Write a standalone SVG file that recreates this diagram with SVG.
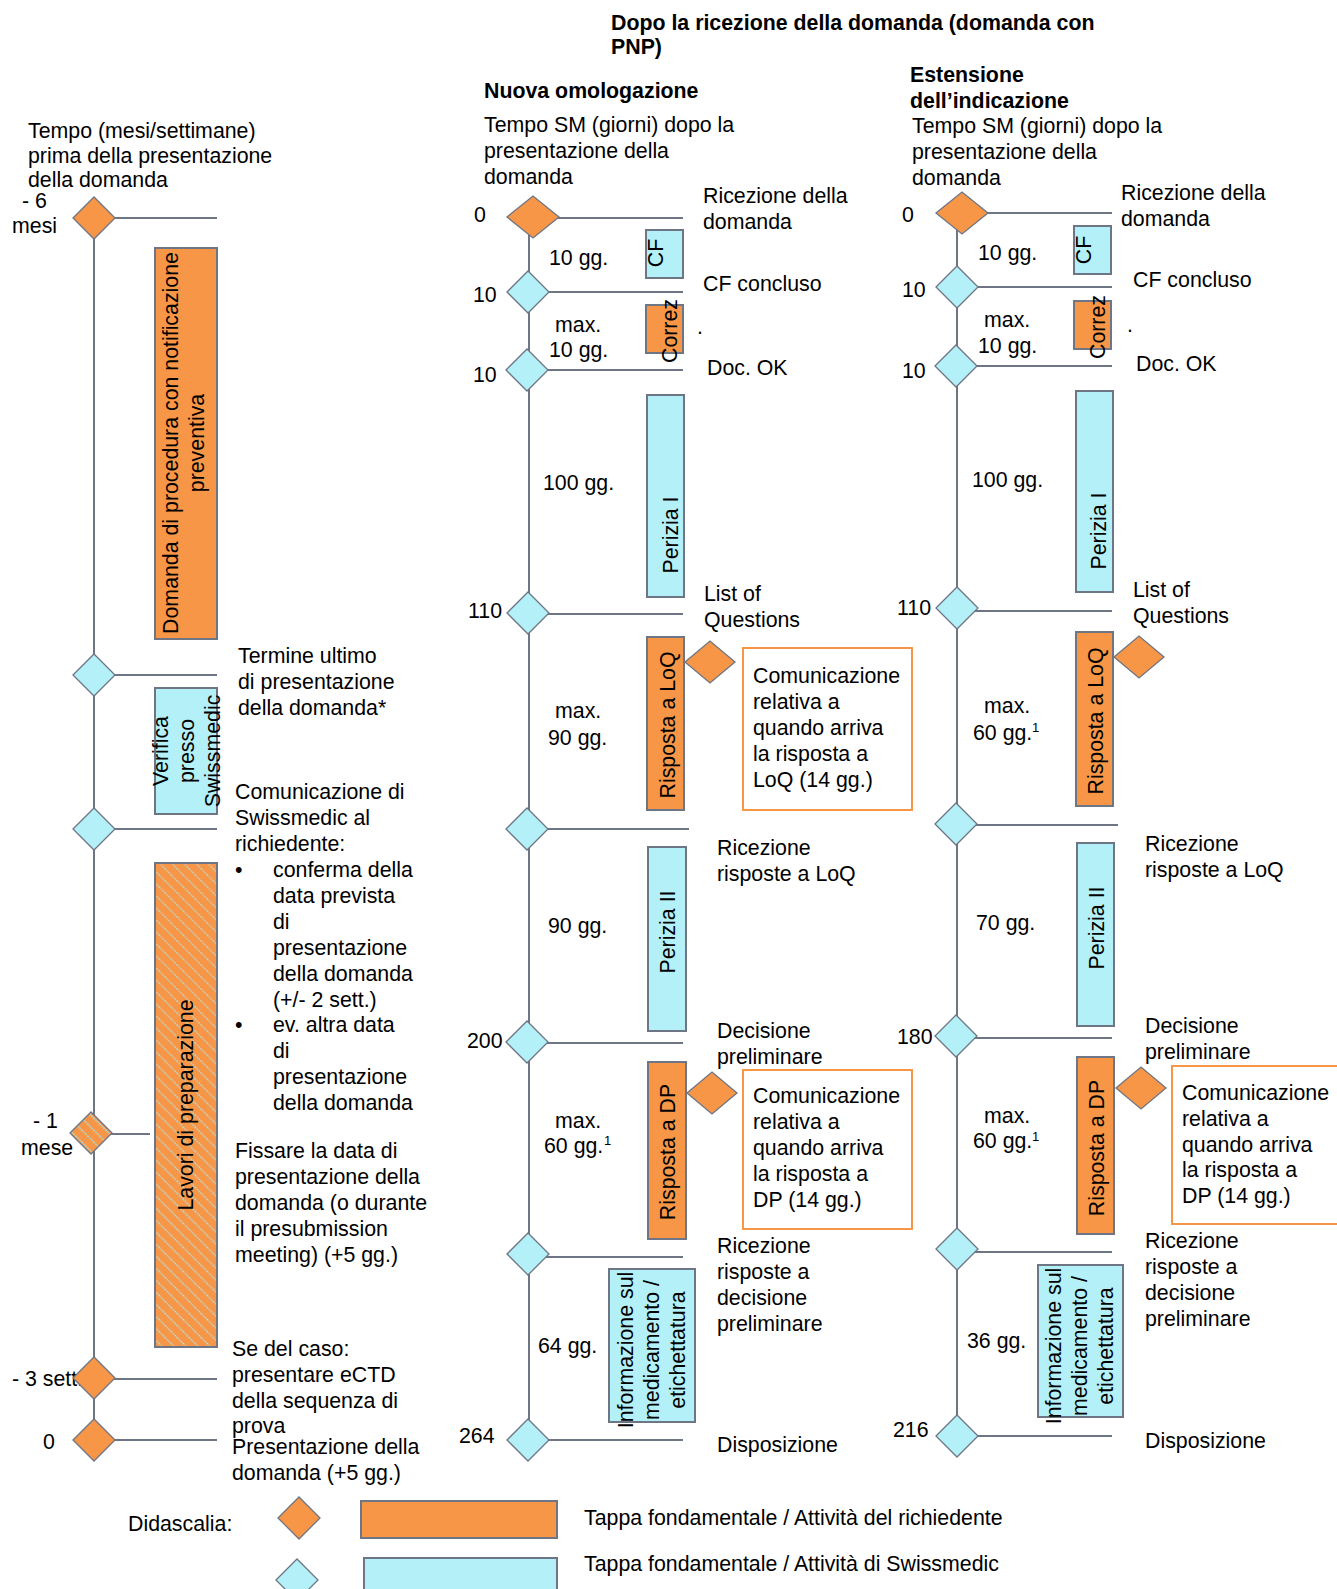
<svg xmlns="http://www.w3.org/2000/svg" xmlns:xlink="http://www.w3.org/1999/xlink" width="1337" height="1589" viewBox="0 0 1337 1589">
<style>
text{font-family:"Liberation Sans",Arial,sans-serif;font-size:21.33px;fill:#000}
.b{font-weight:bold}
.sup{font-size:13px}
.m{text-anchor:middle}
.ln{stroke:#6e7585;stroke-width:2;fill:none}
.dO{fill:#F79646;stroke:#6e7585;stroke-width:1.3}
.dC{fill:#B4F0F8;stroke:#6e7585;stroke-width:1.3}
.dH{fill:url(#hatch);stroke:#6e7585;stroke-width:1.3}
.rO{fill:#F79646;stroke:#6e7585;stroke-width:2}
.rC{fill:#B4F0F8;stroke:#6e7585;stroke-width:2}
.rH{fill:url(#hatch);stroke:#6e7585;stroke-width:2}
.note{fill:#fff;stroke:#F79646;stroke-width:2}
</style>
<defs>
<pattern id="hatch" patternUnits="userSpaceOnUse" width="8.5" height="8.5" patternTransform="rotate(-45)">
<rect width="8.5" height="8.5" fill="#F79646"/>
<line x1="4" y1="0" x2="4" y2="8.5" stroke="#9FEAF5" stroke-width="1.2" stroke-dasharray="1.5 1"/>
</pattern>
<path id="dia" d="M-21,0 L0,-21 L21,0 L0,21 Z"/>
<path id="diaW" d="M-26,0 L0,-21 L26,0 L0,21 Z"/>
<path id="diaS" d="M-25,0 L0,-21 L25,0 L0,21 Z"/>
</defs>
<rect width="1337" height="1589" fill="#fff"/>

<!-- Headers -->
<g id="headers">
<text x="28" y="138">Tempo (mesi/settimane)</text>
<text x="28" y="163">prima della presentazione</text>
<text x="28" y="187">della domanda</text>
<text class="b" x="611" y="30">Dopo la ricezione della domanda (domanda con</text>
<text class="b" x="611" y="54">PNP)</text>
<text class="b" x="484" y="98">Nuova omologazione</text>
<text x="484" y="132">Tempo SM (giorni) dopo la</text>
<text x="484" y="158">presentazione della</text>
<text x="484" y="184">domanda</text>
<text class="b" x="910" y="82">Estensione</text>
<text class="b" x="910" y="108">dell’indicazione</text>
<text x="912" y="133">Tempo SM (giorni) dopo la</text>
<text x="912" y="159">presentazione della</text>
<text x="912" y="185">domanda</text>
</g>

<!-- Connectors -->
<g id="connectors" class="ln">
<line x1="94" y1="218" x2="94" y2="1440"/>
<line x1="94" y1="218" x2="217" y2="218"/>
<line x1="94" y1="675" x2="217" y2="675"/>
<line x1="94" y1="829" x2="217" y2="829"/>
<line x1="94" y1="1134" x2="150" y2="1134"/>
<line x1="94" y1="1379" x2="217" y2="1379"/>
<line x1="94" y1="1440" x2="217" y2="1440"/>

<line x1="529" y1="218" x2="529" y2="1440"/>
<line x1="529" y1="218" x2="683" y2="218"/>
<line x1="529" y1="292" x2="683" y2="292"/>
<line x1="529" y1="370" x2="683" y2="370"/>
<line x1="529" y1="614" x2="683" y2="614"/>
<line x1="529" y1="829" x2="689" y2="829"/>
<line x1="529" y1="1043" x2="683" y2="1043"/>
<line x1="529" y1="1257" x2="683" y2="1257"/>
<line x1="529" y1="1440" x2="683" y2="1440"/>

<line x1="957" y1="213" x2="957" y2="1436"/>
<line x1="957" y1="213" x2="1112" y2="213"/>
<line x1="957" y1="287" x2="1112" y2="287"/>
<line x1="957" y1="366" x2="1112" y2="366"/>
<line x1="957" y1="611" x2="1112" y2="611"/>
<line x1="957" y1="825" x2="1118" y2="825"/>
<line x1="957" y1="1038" x2="1112" y2="1038"/>
<line x1="957" y1="1252" x2="1112" y2="1252"/>
<line x1="957" y1="1436" x2="1112" y2="1436"/>
</g>

<!-- Left column -->
<g id="L-m6">
<text x="22" y="208">- 6</text>
<text x="12" y="233">mesi</text>
<use xlink:href="#dia" x="94" y="218" class="dO"/>
</g>
<g id="L-pnp">
<rect class="rO" x="155" y="248" width="62" height="391"/>
<text class="m" transform="translate(178,443) rotate(-90)">Domanda di procedura con notificazione</text>
<text class="m" transform="translate(204,443) rotate(-90)">preventiva</text>
</g>
<g id="L-termine">
<use xlink:href="#dia" x="94" y="675" class="dC"/>
<text x="238" y="663">Termine ultimo</text>
<text x="238" y="689">di presentazione</text>
<text x="238" y="715">della domanda*</text>
</g>
<g id="L-verifica">
<rect class="rC" x="155" y="688" width="62" height="126"/>
<text class="m" transform="translate(168,751) rotate(-90)">Verifica</text>
<text class="m" transform="translate(194,751) rotate(-90)">presso</text>
<text class="m" transform="translate(220,751) rotate(-90)">Swissmedic</text>
</g>
<g id="L-comunicazione">
<use xlink:href="#dia" x="94" y="829" class="dC"/>
<text x="235" y="799">Comunicazione di</text>
<text x="235" y="825">Swissmedic al</text>
<text x="235" y="851">richiedente:</text>
<text x="235" y="877">•</text>
<text x="273" y="877">conferma della</text>
<text x="273" y="903">data prevista</text>
<text x="273" y="929">di</text>
<text x="273" y="955">presentazione</text>
<text x="273" y="981">della domanda</text>
<text x="273" y="1007">(+/- 2 sett.)</text>
<text x="235" y="1032">•</text>
<text x="273" y="1032">ev. altra data</text>
<text x="273" y="1058">di</text>
<text x="273" y="1084">presentazione</text>
<text x="273" y="1110">della domanda</text>
</g>
<g id="L-lavori">
<rect class="rH" x="155" y="863" width="62" height="484"/>
<text class="m" transform="translate(193,1105) rotate(-90)">Lavori di preparazione</text>
</g>
<g id="L-m1">
<text x="33" y="1128">- 1</text>
<text x="21" y="1155">mese</text>
<use xlink:href="#dia" x="91" y="1133" class="dH"/>
<text x="235" y="1158">Fissare la data di</text>
<text x="235" y="1184">presentazione della</text>
<text x="235" y="1210">domanda (o durante</text>
<text x="235" y="1236">il presubmission</text>
<text x="235" y="1262">meeting) (+5 gg.)</text>
</g>
<g id="L-m3">
<text x="12" y="1386">- 3 sett.</text>
<use xlink:href="#dia" x="94" y="1378" class="dO"/>
<text x="232" y="1356">Se del caso:</text>
<text x="232" y="1382">presentare eCTD</text>
<text x="232" y="1408">della sequenza di</text>
<text x="232" y="1433">prova</text>
</g>
<g id="L-0">
<text x="43" y="1449">0</text>
<use xlink:href="#dia" x="94" y="1440" class="dO"/>
<text x="232" y="1454">Presentazione della</text>
<text x="232" y="1480">domanda (+5 gg.)</text>
</g>

<!-- Middle column: Nuova omologazione -->
<g id="M-0">
<text x="474" y="222">0</text>
<use xlink:href="#diaW" x="533" y="217" class="dO"/>
<text x="703" y="203">Ricezione della</text>
<text x="703" y="229">domanda</text>
</g>
<g id="M-cf">
<rect class="rC" x="646" y="230" width="37" height="48"/>
<text class="m" transform="translate(663,253) rotate(-90)">CF</text>
<text x="549" y="265">10 gg.</text>
</g>
<g id="M-10a">
<text x="473" y="302">10</text>
<use xlink:href="#dia" x="528" y="292" class="dC"/>
<text x="703" y="291">CF concluso</text>
</g>
<g id="M-correz">
<rect class="rO" x="646" y="305" width="37" height="48"/>
<text class="m" transform="translate(677,331) rotate(-90)">Correz</text>
<text x="697" y="334">.</text>
<text x="555" y="332">max.</text>
<text x="549" y="357">10 gg.</text>
</g>
<g id="M-10b">
<text x="473" y="382">10</text>
<use xlink:href="#dia" x="527" y="370" class="dC"/>
<text x="707" y="375">Doc. OK</text>
</g>
<g id="M-perizia1">
<rect class="rC" x="647" y="395" width="37" height="202"/>
<text class="m" transform="translate(678,535) rotate(-90)">Perizia I</text>
<text x="543" y="490">100 gg.</text>
</g>
<g id="M-110">
<text x="468" y="618">110</text>
<use xlink:href="#dia" x="528" y="613" class="dC"/>
<text x="704" y="601">List of</text>
<text x="704" y="627">Questions</text>
</g>
<g id="M-loq">
<rect class="rO" x="647" y="637" width="37" height="173"/>
<text class="m" transform="translate(675,725) rotate(-90)">Risposta a LoQ</text>
<text x="555" y="718">max.</text>
<text x="548" y="745">90 gg.</text>
<use xlink:href="#diaS" x="710" y="662" class="dO"/>
<rect class="note" x="743" y="648" width="169" height="162"/>
<text x="753" y="683">Comunicazione</text>
<text x="753" y="709">relativa a</text>
<text x="753" y="735">quando arriva</text>
<text x="753" y="761">la risposta a</text>
<text x="753" y="787">LoQ (14 gg.)</text>
</g>
<g id="M-rloq">
<use xlink:href="#dia" x="527" y="829" class="dC"/>
<text x="717" y="855">Ricezione</text>
<text x="717" y="881">risposte a LoQ</text>
</g>
<g id="M-perizia2">
<rect class="rC" x="648" y="847" width="38" height="184"/>
<text class="m" transform="translate(675,932) rotate(-90)">Perizia II</text>
<text x="548" y="933">90 gg.</text>
</g>
<g id="M-200">
<text x="467" y="1048">200</text>
<use xlink:href="#dia" x="527" y="1042" class="dC"/>
<text x="717" y="1038">Decisione</text>
<text x="717" y="1064">preliminare</text>
</g>
<g id="M-dp">
<rect class="rO" x="648" y="1062" width="38" height="177"/>
<text class="m" transform="translate(675,1152) rotate(-90)">Risposta a DP</text>
<text x="555" y="1128">max.</text>
<text x="544" y="1153">60 gg.</text>
<text class="sup" x="604" y="1145">1</text>
<use xlink:href="#diaS" x="712" y="1093" class="dO"/>
<rect class="note" x="743" y="1070" width="169" height="159"/>
<text x="753" y="1103">Comunicazione</text>
<text x="753" y="1129">relativa a</text>
<text x="753" y="1155">quando arriva</text>
<text x="753" y="1181">la risposta a</text>
<text x="753" y="1207">DP (14 gg.)</text>
</g>
<g id="M-rdp">
<use xlink:href="#dia" x="528" y="1254" class="dC"/>
<text x="717" y="1253">Ricezione</text>
<text x="717" y="1279">risposte a</text>
<text x="717" y="1305">decisione</text>
<text x="717" y="1331">preliminare</text>
</g>
<g id="M-info">
<rect class="rC" x="609" y="1269" width="86" height="153"/>
<text class="m" transform="translate(633,1350) rotate(-90)">Informazione sul</text>
<text class="m" transform="translate(659,1350) rotate(-90)">medicamento /</text>
<text class="m" transform="translate(685,1350) rotate(-90)">etichettatura</text>
<text x="538" y="1353">64 gg.</text>
</g>
<g id="M-264">
<text x="459" y="1443">264</text>
<use xlink:href="#dia" x="528" y="1440" class="dC"/>
<text x="717" y="1452">Disposizione</text>
</g>

<!-- Right column: Estensione dell'indicazione -->
<g id="R-0">
<text x="902" y="222">0</text>
<use xlink:href="#diaW" x="962" y="213" class="dO"/>
<text x="1121" y="200">Ricezione della</text>
<text x="1121" y="226">domanda</text>
</g>
<g id="R-cf">
<rect class="rC" x="1074" y="226" width="37" height="48"/>
<text class="m" transform="translate(1091,250) rotate(-90)">CF</text>
<text x="978" y="260">10 gg.</text>
</g>
<g id="R-10a">
<text x="902" y="297">10</text>
<use xlink:href="#dia" x="957" y="287" class="dC"/>
<text x="1133" y="287">CF concluso</text>
</g>
<g id="R-correz">
<rect class="rO" x="1074" y="301" width="37" height="48"/>
<text class="m" transform="translate(1105,327) rotate(-90)">Correz</text>
<text x="1127" y="332">.</text>
<text x="984" y="327">max.</text>
<text x="978" y="353">10 gg.</text>
</g>
<g id="R-10b">
<text x="902" y="378">10</text>
<use xlink:href="#dia" x="956" y="366" class="dC"/>
<text x="1136" y="371">Doc. OK</text>
</g>
<g id="R-perizia1">
<rect class="rC" x="1076" y="391" width="37" height="201"/>
<text class="m" transform="translate(1106,531) rotate(-90)">Perizia I</text>
<text x="972" y="487">100 gg.</text>
</g>
<g id="R-110">
<text x="897" y="615">110</text>
<use xlink:href="#dia" x="957" y="608" class="dC"/>
<text x="1133" y="597">List of</text>
<text x="1133" y="623">Questions</text>
</g>
<g id="R-loq">
<rect class="rO" x="1076" y="632" width="37" height="174"/>
<text class="m" transform="translate(1103,721) rotate(-90)">Risposta a LoQ</text>
<text x="984" y="713">max.</text>
<text x="973" y="740">60 gg.</text>
<text class="sup" x="1032" y="732">1</text>
<use xlink:href="#diaS" x="1139" y="657" class="dO"/>
</g>
<g id="R-rloq">
<use xlink:href="#dia" x="956" y="824" class="dC"/>
<text x="1145" y="851">Ricezione</text>
<text x="1145" y="877">risposte a LoQ</text>
</g>
<g id="R-perizia2">
<rect class="rC" x="1077" y="843" width="37" height="183"/>
<text class="m" transform="translate(1104,928) rotate(-90)">Perizia II</text>
<text x="976" y="930">70 gg.</text>
</g>
<g id="R-180">
<text x="897" y="1044">180</text>
<use xlink:href="#dia" x="956" y="1036" class="dC"/>
<text x="1145" y="1033">Decisione</text>
<text x="1145" y="1059">preliminare</text>
</g>
<g id="R-dp">
<rect class="rO" x="1077" y="1057" width="37" height="177"/>
<text class="m" transform="translate(1104,1148) rotate(-90)">Risposta a DP</text>
<text x="984" y="1123">max.</text>
<text x="973" y="1148">60 gg.</text>
<text class="sup" x="1032" y="1141">1</text>
<use xlink:href="#diaS" x="1141" y="1088" class="dO"/>
<rect class="note" x="1172" y="1066" width="170" height="158"/>
<text x="1182" y="1100">Comunicazione</text>
<text x="1182" y="1126">relativa a</text>
<text x="1182" y="1152">quando arriva</text>
<text x="1182" y="1177">la risposta a</text>
<text x="1182" y="1203">DP (14 gg.)</text>
</g>
<g id="R-rdp">
<use xlink:href="#dia" x="957" y="1249" class="dC"/>
<text x="1145" y="1248">Ricezione</text>
<text x="1145" y="1274">risposte a</text>
<text x="1145" y="1300">decisione</text>
<text x="1145" y="1326">preliminare</text>
</g>
<g id="R-info">
<rect class="rC" x="1038" y="1265" width="85" height="152"/>
<text class="m" transform="translate(1061,1346) rotate(-90)">Informazione sul</text>
<text class="m" transform="translate(1087,1346) rotate(-90)">medicamento /</text>
<text class="m" transform="translate(1113,1346) rotate(-90)">etichettatura</text>
<text x="967" y="1348">36 gg.</text>
</g>
<g id="R-216">
<text x="893" y="1437">216</text>
<use xlink:href="#dia" x="957" y="1436" class="dC"/>
<text x="1145" y="1448">Disposizione</text>
</g>

<!-- Legend -->
<g id="legend">
<text x="128" y="1531">Didascalia:</text>
<use xlink:href="#dia" x="299" y="1518" class="dO"/>
<rect class="rO" x="361" y="1501" width="196" height="37"/>
<text x="584" y="1525">Tappa fondamentale / Attività del richiedente</text>
<use xlink:href="#dia" x="297" y="1580" class="dC"/>
<rect class="rC" x="364" y="1558" width="193" height="40"/>
<text x="584" y="1571">Tappa fondamentale / Attività di Swissmedic</text>
</g>
</svg>
